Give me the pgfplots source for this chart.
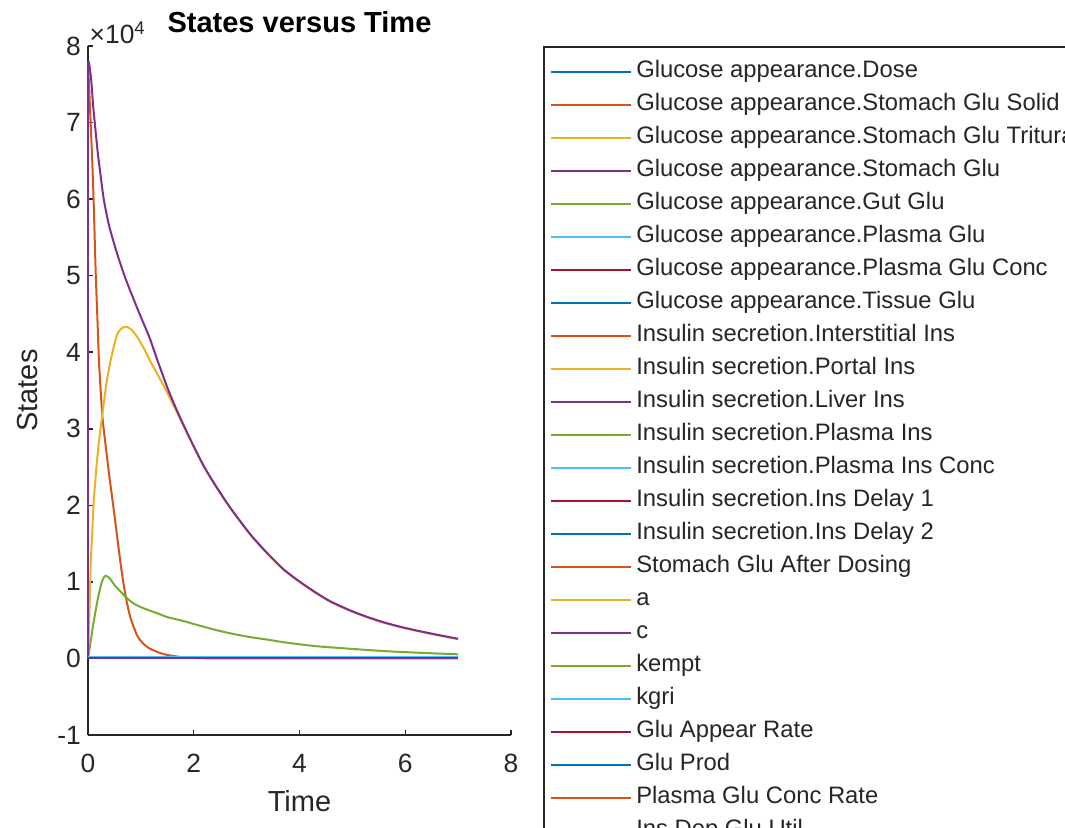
\documentclass[border=0pt]{standalone}
\usepackage{pgfplots}
\pgfplotsset{compat=1.18}
\usepackage{fontspec}
\setmainfont{Liberation Sans}

\definecolor{mblue}{HTML}{0072BD}
\definecolor{morange}{HTML}{D95319}
\definecolor{myellow}{HTML}{EDB120}
\definecolor{mpurple}{HTML}{7E2F8E}
\definecolor{mgreen}{HTML}{77AC30}
\definecolor{mcyan}{HTML}{4DBEEE}
\definecolor{mred}{HTML}{A2142F}
\definecolor{axgray}{HTML}{262626}

\begin{document}
\begin{tikzpicture}
\begin{axis}[
    name=ax,
    at={(0pt,0pt)}, anchor=south west,
    scale only axis,
    width=211.5pt, height=344.5pt,
    xmin=0, xmax=8, ymin=-10000, ymax=80000,
    clip=false,
    axis lines=left,
    axis line style={-, axgray, line width=0.75pt},
    xtick={0,2,4,6,8},
    ytick={-10000,0,10000,20000,30000,40000,50000,60000,70000,80000},
    yticklabels={-1,0,1,2,3,4,5,6,7,8},
    scaled y ticks=false,
    tick align=inside,
    major tick length=2.5pt,
    tick style={axgray, line width=0.75pt},
    /pgf/number format/assume math mode=true,
    ticklabel style={font=\fontsize{13.2}{15}\selectfont, text=axgray},
    xticklabel style={yshift=-6pt},
    title={States versus Time},
    title style={at={(axis description cs:0.5,1.0176)}, anchor=center,
        font=\fontsize{14.5}{17}\selectfont\bfseries},
    xlabel={Time},
    xlabel style={at={(axis description cs:0.5,-0.0958)}, anchor=center,
        font=\fontsize{14.5}{17}\selectfont, text=axgray},
    ylabel={States},
    ylabel style={at={(axis description cs:-0.142,0.5)}, anchor=center,
        font=\fontsize{14.5}{17}\selectfont, text=axgray},
    every axis plot/.append style={line width=1pt},
    legend image code/.code={\draw[#1, line width=1pt] (0pt,0pt) -- (40pt,0pt);},
    legend style={at={(axis description cs:1.0757,1)}, anchor=north west,
        draw=axgray, line width=0.75pt,
        inner xsep=3.25pt, inner ysep=4.25pt, row sep=0pt,
        font=\fontsize{11.9}{14}\selectfont, text=axgray,
        nodes={inner xsep=2pt, inner ysep=2.25pt, text height=9pt, text depth=3pt}},
    legend cell align=left,
]
% 1 Dose
\addplot[mblue] coordinates {(0,0) (7,0)};
% 2 Stomach Glu Solid
\addplot[morange, smooth, tension=0.4] coordinates {(0,78000) (0.05,70000) (0.08,65000)
    (0.11,59000) (0.145,50500) (0.18,44000) (0.21,38500) (0.27,31800) (0.33,28000)
    (0.40,24000) (0.48,19800) (0.55,16000) (0.63,11700) (0.71,8200) (0.80,5400)
    (0.93,3000) (1.05,1900) (1.18,1250) (1.35,750) (1.5,450) (1.8,150) (2.1,40)
    (2.5,5) (3,0) (7,0)};
% 3 Stomach Glu Triturated
\addplot[myellow, smooth, tension=0.4] coordinates {(0,0) (0.02,4500) (0.05,11900)
    (0.08,16500) (0.11,20700) (0.16,25000) (0.21,28500) (0.27,31800) (0.35,36000)
    (0.43,39000) (0.55,42300) (0.65,43200) (0.74,43300) (0.83,42900) (0.93,42000)
    (1.05,40600) (1.18,38800) (1.34,36800) (1.5,34700) (1.65,32600) (1.8,30500)
    (2.0,27650) (2.2,24950) (2.43,22350) (2.7,19550) (3.06,16250) (3.35,14000)
    (3.69,11650) (4.0,10000) (4.32,8500) (4.6,7350) (4.95,6250) (5.25,5450)
    (5.58,4700) (5.9,4100) (6.21,3610) (6.6,3050) (7.0,2520)};
% 4 Stomach Glu
\addplot[mpurple, smooth, tension=0.4] coordinates {(0,78000) (0.02,77800) (0.06,75600)
    (0.1,72000) (0.18,66400) (0.24,63000) (0.30,59900) (0.4,56500) (0.55,52900)
    (0.7,49800) (0.87,46800) (1.0,44600) (1.17,41800) (1.3,39200) (1.5,35400)
    (1.65,32900) (1.8,30600) (2.0,27700) (2.2,25000) (2.43,22400) (2.7,19600)
    (3.06,16300) (3.35,14050) (3.69,11700) (4.0,10050) (4.32,8550) (4.6,7400)
    (4.95,6300) (5.25,5500) (5.58,4750) (5.9,4150) (6.21,3660) (6.6,3100) (7.0,2570)};
% 5 Gut Glu
\addplot[mgreen, smooth, tension=0.4] coordinates {(0,0) (0.05,2200) (0.1,4500)
    (0.18,7600) (0.25,9700) (0.30,10600) (0.33,10800) (0.37,10700) (0.43,10300)
    (0.5,9600) (0.62,8700) (0.75,7800) (0.87,7150) (1.0,6700) (1.17,6250)
    (1.35,5800) (1.5,5400) (1.8,4900) (2.0,4500) (2.43,3700) (2.75,3200)
    (3.06,2800) (3.4,2450) (3.69,2130) (4.0,1850) (4.32,1600) (4.95,1270)
    (5.58,970) (6.21,760) (7.0,540)};
\addplot[mcyan] coordinates {(0,0) (7,0)};
\addplot[mred] coordinates {(0,0) (7,0)};
\addplot[mblue] coordinates {(0,0) (7,0)};
\addplot[morange] coordinates {(0,0) (7,0)};
\addplot[myellow] coordinates {(0,0) (7,0)};
\addplot[mpurple] coordinates {(0,0) (7,0)};
\addplot[mgreen] coordinates {(0,0) (7,0)};
\addplot[mcyan] coordinates {(0,0) (7,0)};
\addplot[mred] coordinates {(0,0) (7,0)};
\addplot[mblue] coordinates {(0,0) (7,0)};
\addplot[morange] coordinates {(0,0) (7,0)};
\addplot[myellow] coordinates {(0,0) (7,0)};
\addplot[mpurple] coordinates {(0,0) (7,0)};
\addplot[mgreen] coordinates {(0,0) (7,0)};
\addplot[mcyan] coordinates {(0,0) (7,0)};
\addplot[mred] coordinates {(0,0) (7,0)};
\addplot[mblue] coordinates {(0,0) (7,0)};
\addplot[morange] coordinates {(0,0) (7,0)};
\addplot[myellow] coordinates {(0,0) (7,0)};
% jumps at the dose time and later states near zero
\addplot[morange, forget plot] coordinates {(0,0) (0,78000)};
\addplot[mpurple, forget plot] coordinates {(0,0) (0,78000)};
\addplot[mcyan, forget plot] coordinates {(0,130) (7,130)};
\addplot[mpurple, forget plot] coordinates {(0,0) (7,0)};
\legend{Glucose appearance.Dose,
    Glucose appearance.Stomach Glu Solid,
    Glucose appearance.Stomach Glu Triturated,
    Glucose appearance.Stomach Glu,
    Glucose appearance.Gut Glu,
    Glucose appearance.Plasma Glu,
    Glucose appearance.Plasma Glu Conc,
    Glucose appearance.Tissue Glu,
    Insulin secretion.Interstitial Ins,
    Insulin secretion.Portal Ins,
    Insulin secretion.Liver Ins,
    Insulin secretion.Plasma Ins,
    Insulin secretion.Plasma Ins Conc,
    Insulin secretion.Ins Delay 1,
    Insulin secretion.Ins Delay 2,
    Stomach Glu After Dosing,
    a, c, kempt, kgri,
    Glu Appear Rate,
    Glu Prod,
    Plasma Glu Conc Rate,
    Ins Dep Glu Util}
\node[anchor=west, inner sep=0pt, text=axgray, font=\fontsize{13.2}{15}\selectfont]
    at (axis description cs:0.003,1.019) {×10\textsuperscript{4}};
\end{axis}
\pgfresetboundingbox
\path[use as bounding box] ([shift={(-44pt,-46pt)}]ax.south west)
    rectangle ([shift={(488.5pt,367.5pt)}]ax.south west);
\end{tikzpicture}
\end{document}
